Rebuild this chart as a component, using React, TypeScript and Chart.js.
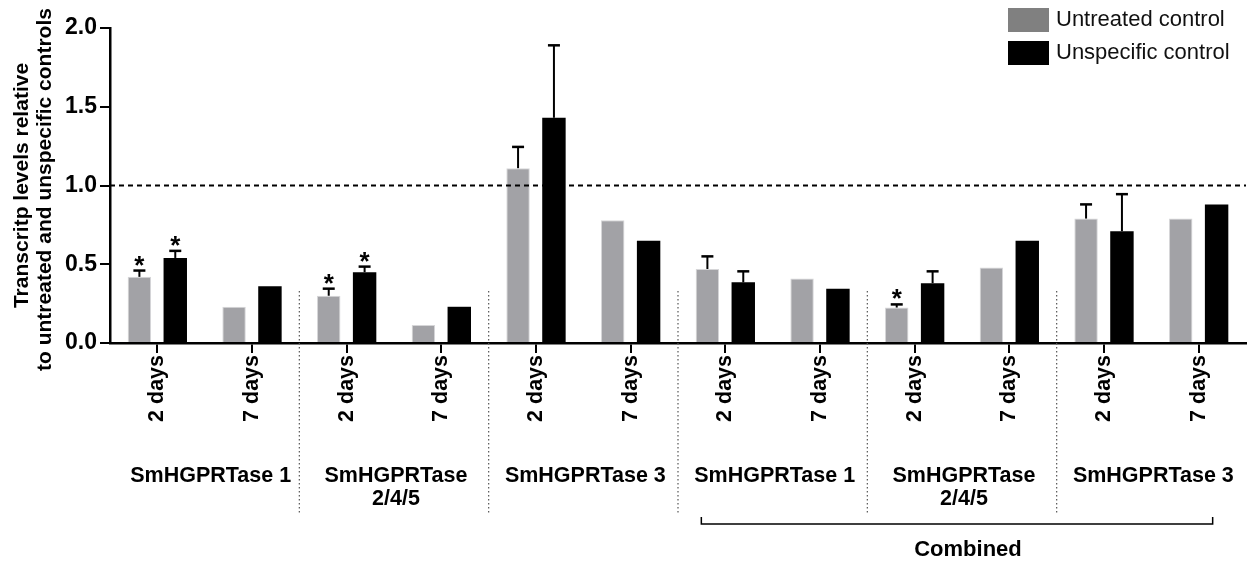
import { useRef, useEffect } from 'react';
import { Chart, registerables } from 'chart.js';

Chart.register(...registerables);

const dayLabels = ['2 days', '7 days', '2 days', '7 days', '2 days', '7 days', '2 days', '7 days', '2 days', '7 days', '2 days', '7 days'];
const groupLabels = [['SmHGPRTase 1'], ['SmHGPRTase', '2/4/5'], ['SmHGPRTase 3'], ['SmHGPRTase 1'], ['SmHGPRTase', '2/4/5'], ['SmHGPRTase 3']];
const seriesNames = ['Untreated control', 'Unspecific control'];

const untreated = [0.42, 0.23, 0.30, 0.115, 1.11, 0.78, 0.47, 0.41, 0.225, 0.48, 0.79, 0.79];
const unspecific = [0.54, 0.36, 0.45, 0.23, 1.43, 0.65, 0.385, 0.345, 0.38, 0.65, 0.71, 0.88];
const untreatedErr = [0.04, 0, 0.045, 0, 0.135, 0, 0.08, 0, 0.02, 0, 0.09, 0];
const unspecificErr = [0.045, 0, 0.035, 0, 0.46, 0, 0.07, 0, 0.075, 0, 0.235, 0];
const untreatedSig = [true, false, true, false, false, false, false, false, true, false, false, false];
const unspecificSig = [true, false, true, false, false, false, false, false, false, false, false, false];

const yTicks = [0, 0.5, 1, 1.5, 2];
const referenceLevel = 1;

const FONT = '"Liberation Sans", Arial, sans-serif';
const GRAY = '#a2a2a6';
const LEGEND_GRAY = '#808080';

// error bars, asterisks, reference line, group labels and the rest of the GraphPad-style decoration
const decorations = {
  id: 'decorations',
  afterDatasetsDraw(chart: Chart) {
    const { ctx, chartArea: area } = chart;
    const x = chart.scales.x;
    const y = chart.scales.y;

    // dashed line at 1.0
    ctx.save();
    ctx.strokeStyle = '#000';
    ctx.lineWidth = 2;
    ctx.setLineDash([5, 4]);
    ctx.beginPath();
    ctx.moveTo(area.left, y.getPixelForValue(referenceLevel));
    ctx.lineTo(area.right, y.getPixelForValue(referenceLevel));
    ctx.stroke();
    ctx.restore();

    // error bars + significance marks
    const values = [untreated, unspecific];
    const errs = [untreatedErr, unspecificErr];
    const sigs = [untreatedSig, unspecificSig];
    ctx.save();
    ctx.strokeStyle = '#000';
    ctx.fillStyle = '#000';
    values.forEach((vals, di) => {
      const meta = chart.getDatasetMeta(di);
      meta.data.forEach((bar: any, i) => {
        const e = errs[di][i];
        const base = y.getPixelForValue(vals[i]);
        const top = y.getPixelForValue(vals[i] + e);
        if (e > 0) {
          ctx.lineWidth = 2;
          ctx.beginPath();
          ctx.moveTo(bar.x, base);
          ctx.lineTo(bar.x, top);
          ctx.stroke();
          ctx.lineWidth = 2.5;
          ctx.beginPath();
          ctx.moveTo(bar.x - 6, top);
          ctx.lineTo(bar.x + 6, top);
          ctx.stroke();
        }
        if (sigs[di][i]) {
          ctx.font = `bold 26px ${FONT}`;
          ctx.textAlign = 'center';
          ctx.textBaseline = 'alphabetic';
          ctx.fillText('*', bar.x, top + 3);
        }
      });
    });
    ctx.restore();

    // dotted separators between gene groups
    const step = x.getPixelForValue(1) - x.getPixelForValue(0);
    ctx.save();
    ctx.strokeStyle = '#555';
    ctx.lineWidth = 1.2;
    ctx.setLineDash([1.5, 2.5]);
    for (let g = 1; g < groupLabels.length; g++) {
      const sx = x.getPixelForValue(g * 2) - step / 2;
      ctx.beginPath();
      ctx.moveTo(sx, area.bottom - 52);
      ctx.lineTo(sx, area.bottom + 172);
      ctx.stroke();
    }
    ctx.restore();

    // group labels
    ctx.save();
    ctx.fillStyle = '#000';
    ctx.font = `bold 21.5px ${FONT}`;
    ctx.textAlign = 'center';
    ctx.textBaseline = 'alphabetic';
    groupLabels.forEach((lines, g) => {
      const cx = (x.getPixelForValue(g * 2) + x.getPixelForValue(g * 2 + 1)) / 2 + (g === 0 ? 6 : 2);
      lines.forEach((line, li) => ctx.fillText(line, cx, area.bottom + 139 + li * 23));
    });

    // "Combined" bracket
    const bl = x.getPixelForValue(6) - 24;
    const br = x.getPixelForValue(11) + 14;
    const by = area.bottom + 181;
    ctx.strokeStyle = '#000';
    ctx.lineWidth = 1.5;
    ctx.beginPath();
    ctx.moveTo(bl, by - 7);
    ctx.lineTo(bl, by);
    ctx.lineTo(br, by);
    ctx.lineTo(br, by - 7);
    ctx.stroke();
    ctx.font = `bold 22px ${FONT}`;
    ctx.fillText('Combined', (bl + br) / 2 + 11, area.bottom + 213);

    // y-axis title, two lines
    const midY = (area.top + area.bottom) / 2;
    ctx.font = `bold 21px ${FONT}`;
    ctx.textBaseline = 'middle';
    ctx.save();
    ctx.translate(22, midY);
    ctx.rotate(-Math.PI / 2);
    ctx.fillText('Transcritp levels relative', 0, 0);
    ctx.restore();
    ctx.save();
    ctx.translate(45, midY + 4);
    ctx.rotate(-Math.PI / 2);
    ctx.fillText('to untreated and unspecific controls', 0, 0);
    ctx.restore();

    // legend
    const colors = [LEGEND_GRAY, '#000'];
    ctx.font = `22px ${FONT}`;
    ctx.textAlign = 'left';
    seriesNames.forEach((name, i) => {
      const ly = 8 + i * 33;
      ctx.fillStyle = colors[i];
      ctx.fillRect(1008, ly, 41, 24);
      ctx.fillStyle = '#111';
      ctx.fillText(name, 1056, ly + 12);
    });
    ctx.restore();
  },
};

export default function App() {
  const canvasRef = useRef<HTMLCanvasElement>(null);

  useEffect(() => {
    if (!canvasRef.current) return;
    const ctx = canvasRef.current.getContext('2d');
    if (!ctx) return;

    const chart = new Chart(ctx, {
      type: 'bar',
      data: {
        labels: dayLabels,
        datasets: [
          {
            label: seriesNames[0],
            data: untreated,
            backgroundColor: GRAY,
            borderColor: '#d6d6d8',
            borderWidth: 1,
            categoryPercentage: 0.758,
            barPercentage: 0.653,
          },
          {
            label: seriesNames[1],
            data: unspecific,
            backgroundColor: '#000',
            borderWidth: 0,
            categoryPercentage: 0.758,
            barPercentage: 0.653,
          },
        ],
      },
      options: {
        responsive: true,
        maintainAspectRatio: false,
        animation: false,
        layout: { padding: { top: 28, right: 9, left: 0, bottom: 0 } },
        scales: {
          x: {
            offset: true,
            grid: {
              offset: false,
              drawOnChartArea: false,
              drawTicks: true,
              tickLength: 10,
              color: '#000',
              lineWidth: 2,
            },
            border: { display: true, color: '#000', width: 2.5 },
            ticks: {
              autoSkip: false,
              minRotation: 90,
              maxRotation: 90,
              padding: 2,
              color: '#000',
              font: { family: FONT, size: 21.5, weight: 'bold' },
            },
            afterFit: (scale: any) => { scale.height = 219; },
          },
          y: {
            min: 0,
            max: 2,
            afterBuildTicks: (scale: any) => { scale.ticks = yTicks.map(v => ({ value: v })); },
            grid: {
              drawOnChartArea: false,
              drawTicks: true,
              tickLength: 10,
              color: '#000',
              lineWidth: 2,
            },
            border: { display: true, color: '#000', width: 2.5 },
            ticks: {
              padding: 3,
              color: '#000',
              font: { family: FONT, size: 23, weight: 'bold' },
              callback: (v: any) => Number(v).toFixed(1),
            },
            afterFit: (scale: any) => { scale.width = 110; },
          },
        },
        plugins: {
          legend: { display: false },
          tooltip: { enabled: false },
        },
      },
      plugins: [decorations],
    });
    return () => { chart.destroy(); };
  }, []);

  return (
    <div style={{ position: 'absolute', left: 0, top: 0, width: 1255, height: 562, background: '#fff' }}>
      <canvas ref={canvasRef} />
    </div>
  );
}
